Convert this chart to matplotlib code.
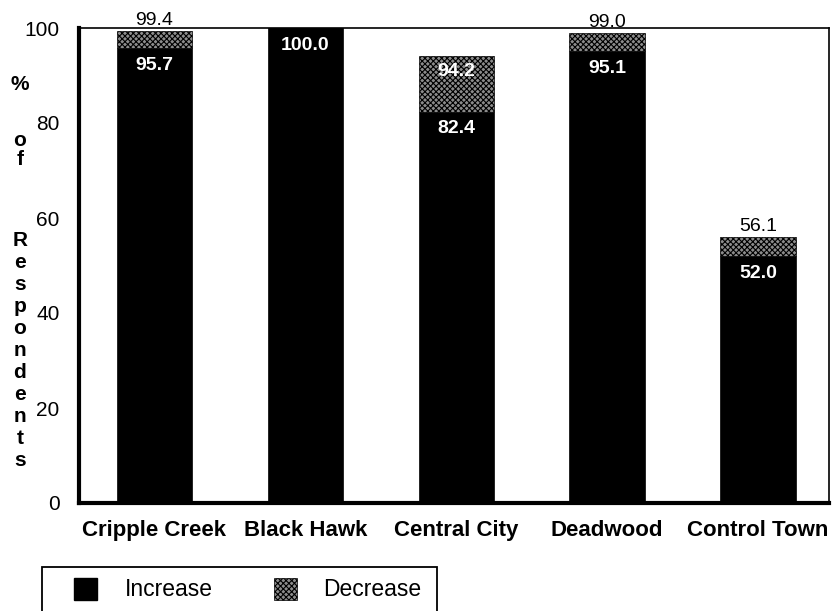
import numpy as np
import matplotlib
matplotlib.use("Agg")
import matplotlib.pyplot as plt
from matplotlib.patches import Rectangle

plt.rcParams["font.family"] = ["Liberation Sans", "DejaVu Sans"]
plt.rcParams["hatch.linewidth"] = 0.8

towns = ["Cripple Creek", "Black Hawk", "Central City", "Deadwood", "Control Town"]
increase = [95.7, 100.0, 82.4, 95.1, 52.0]
total = [99.4, 100.0, 94.2, 99.0, 56.1]
decrease = [t - i for t, i in zip(total, increase)]
yticks = [0, 20, 40, 60, 80, 100]
legend_labels = ["Increase", "Decrease"]

W, H = 833, 611
HATCH_FC = "#8c8c8c"
HATCH = "xxxxxx"

fig = plt.figure(figsize=(W / 100, H / 100), dpi=100)
ax = fig.add_axes([79 / W, 1 - 503 / H, 750 / W, 475 / H])

x = np.arange(len(towns))
w = 0.5
ax.bar(x, increase, w, color="black", edgecolor="black", lw=0.5)
ax.bar(x, decrease, w, bottom=increase, color=HATCH_FC, edgecolor="black",
       hatch=HATCH, lw=0.5)

for i in range(len(towns)):
    ax.text(x[i], increase[i] - 1.8, f"{increase[i]:.1f}", color="white",
            ha="center", va="top", fontsize=14, fontweight="bold")
    if decrease[i] > 0:
        if decrease[i] > 6:
            ax.text(x[i], total[i] - 1.5, f"{total[i]:.1f}", color="white",
                    ha="center", va="top", fontsize=14, fontweight="bold")
        else:
            ax.text(x[i], total[i] + 0.3, f"{total[i]:.1f}", color="black",
                    ha="center", va="bottom", fontsize=14)

ax.set_xlim(-0.5, 4.47)
ax.set_ylim(0, 100)
ax.set_yticks(yticks)
ax.set_yticklabels([str(v) for v in yticks], fontsize=15)
ax.set_xticks(x)
ax.set_xticklabels(towns, fontsize=16, fontweight="bold")
ax.tick_params(length=0)
ax.tick_params(axis="x", pad=12)
ax.tick_params(axis="y", pad=14)
for s in ["left", "bottom"]:
    ax.spines[s].set_linewidth(3)
for s in ["top", "right"]:
    ax.spines[s].set_linewidth(1.2)

# stacked vertical axis title
lx = 20 / W
fig.text(lx, 1 - 85 / H, "%", ha="center", va="center",
         fontsize=15, fontweight="bold")
fig.text(lx, 1 - 150 / H, "o\nf", ha="center", va="center",
         fontsize=15, fontweight="bold", linespacing=1.0)
fig.text(lx, 1 - 350 / H, "\n".join("Respondents"), ha="center",
         va="center", fontsize=15, fontweight="bold", linespacing=1.2)

# legend box (runs off the bottom of the page as in the scan)
fig.patches.append(Rectangle((42 / W, -0.05), 395 / W, 0.05 + (H - 567) / H,
                             transform=fig.transFigure, facecolor="white",
                             edgecolor="black", lw=1.3))
fig.patches.append(Rectangle((74 / W, 1 - 600 / H), 23 / W, 22 / H,
                             transform=fig.transFigure, facecolor="black",
                             edgecolor="black"))
fig.patches.append(Rectangle((274 / W, 1 - 600 / H), 23 / W, 22 / H,
                             transform=fig.transFigure, facecolor=HATCH_FC,
                             edgecolor="black", hatch=HATCH, lw=0.5))
fig.text(125 / W, 1 - 590 / H, legend_labels[0], ha="left", va="center",
         fontsize=16.5)
fig.text(323 / W, 1 - 590 / H, legend_labels[1], ha="left", va="center",
         fontsize=16.5)

fig.savefig("out.png", dpi=100)
